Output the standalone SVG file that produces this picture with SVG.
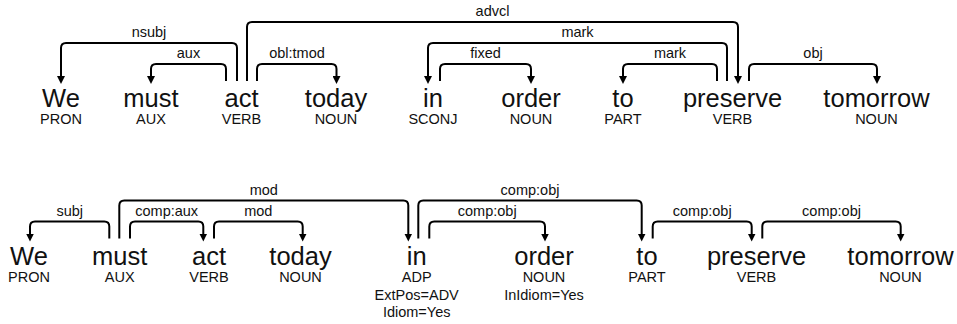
<svg xmlns="http://www.w3.org/2000/svg" width="957" height="324" viewBox="0 0 957 324">
<defs>
<style>
text{font-family:"Liberation Sans",Arial,sans-serif;fill:#111;text-anchor:middle}
.w{font-size:25.5px}
.t{font-size:14.5px}
.l{font-size:14.5px}
.arc{fill:none;stroke:#000;stroke-width:2;marker-end:url(#ah)}
</style>
<marker id="ah" markerUnits="userSpaceOnUse" viewBox="0 0 8 8" markerWidth="8" markerHeight="8" refX="4" refY="4" orient="auto">
<path d="M0,0 L8,4 L0,8 z" fill="#000"/>
</marker>
</defs>
<rect width="957" height="324" fill="#fff"/>

<g id="tree1-words">
<g id="t1-We"><text class="w" x="61" y="107">We</text><text class="t" x="61" y="124">PRON</text></g>
<g id="t1-must"><text class="w" x="151" y="107">must</text><text class="t" x="151" y="124">AUX</text></g>
<g id="t1-act"><text class="w" x="241.5" y="107">act</text><text class="t" x="241.5" y="124">VERB</text></g>
<g id="t1-today"><text class="w" x="336" y="107">today</text><text class="t" x="336" y="124">NOUN</text></g>
<g id="t1-in"><text class="w" x="433" y="107">in</text><text class="t" x="433" y="124">SCONJ</text></g>
<g id="t1-order"><text class="w" x="531" y="107">order</text><text class="t" x="531" y="124">NOUN</text></g>
<g id="t1-to"><text class="w" x="623" y="107">to</text><text class="t" x="623" y="124">PART</text></g>
<g id="t1-preserve"><text class="w" x="732.5" y="107">preserve</text><text class="t" x="732.5" y="124">VERB</text></g>
<g id="t1-tomorrow"><text class="w" x="876.5" y="107">tomorrow</text><text class="t" x="876.5" y="124">NOUN</text></g>
</g>

<g id="tree1-connectors">
<path class="arc" d="M237,81 V48 Q237,43 232,43 H66 Q61,43 61,48 V80"/>
<text class="l" x="149" y="37">nsubj</text>
<path class="arc" d="M226,81 V69 Q226,64 221,64 H156 Q151,64 151,69 V80"/>
<text class="l" x="188.5" y="58">aux</text>
<path class="arc" d="M247,81 V27 Q247,22 252,22 H733 Q738,22 738,27 V80"/>
<text class="l" x="492.5" y="16">advcl</text>
<path class="arc" d="M257,81 V69 Q257,64 262,64 H331.5 Q336.5,64 336.5,69 V80"/>
<text class="l" x="297" y="58">obl:tmod</text>
<path class="arc" d="M727,81 V48 Q727,43 722,43 H433 Q428,43 428,48 V80"/>
<text class="l" x="577.5" y="37">mark</text>
<path class="arc" d="M440,81 V69 Q440,64 445,64 H526 Q531,64 531,69 V80"/>
<text class="l" x="485.5" y="58">fixed</text>
<path class="arc" d="M717,81 V69 Q717,64 712,64 H628 Q623,64 623,69 V80"/>
<text class="l" x="670" y="58">mark</text>
<path class="arc" d="M749,81 V69 Q749,64 754,64 H872 Q877,64 877,69 V80"/>
<text class="l" x="813" y="58">obj</text>
</g>

<g id="tree2-words">
<g id="t2-We"><text class="w" x="29" y="264.5">We</text><text class="t" x="29" y="281.5">PRON</text></g>
<g id="t2-must"><text class="w" x="119.7" y="264.5">must</text><text class="t" x="119.7" y="281.5">AUX</text></g>
<g id="t2-act"><text class="w" x="209" y="264.5">act</text><text class="t" x="209" y="281.5">VERB</text></g>
<g id="t2-today"><text class="w" x="300.5" y="264.5">today</text><text class="t" x="300.5" y="281.5">NOUN</text></g>
<g id="t2-in"><text class="w" x="416.7" y="264.5">in</text><text class="t" x="416.7" y="281.5">ADP</text><text class="t" x="416.7" y="299.5">ExtPos=ADV</text><text class="t" x="416.7" y="316.5">Idiom=Yes</text></g>
<g id="t2-order"><text class="w" x="544" y="264.5">order</text><text class="t" x="544" y="281.5">NOUN</text><text class="t" x="544" y="299.5">InIdiom=Yes</text></g>
<g id="t2-to"><text class="w" x="647" y="264.5">to</text><text class="t" x="647" y="281.5">PART</text></g>
<g id="t2-preserve"><text class="w" x="756.5" y="264.5">preserve</text><text class="t" x="756.5" y="281.5">VERB</text></g>
<g id="t2-tomorrow"><text class="w" x="900.5" y="264.5">tomorrow</text><text class="t" x="900.5" y="281.5">NOUN</text></g>
</g>

<g id="tree2-connectors">
<path class="arc" d="M109.3,238.5 V226.5 Q109.3,221.5 104.3,221.5 H35 Q30,221.5 30,226.5 V237.5"/>
<text class="l" x="69.7" y="215.5">subj</text>
<path class="arc" d="M119.3,238.5 V205.5 Q119.3,200.5 124.3,200.5 H403.3 Q408.3,200.5 408.3,205.5 V237.5"/>
<text class="l" x="263.8" y="194.5">mod</text>
<path class="arc" d="M130,238.5 V226.5 Q130,221.5 135,221.5 H198.3 Q203.3,221.5 203.3,226.5 V237.5"/>
<text class="l" x="166.7" y="215.5">comp:aux</text>
<path class="arc" d="M214,238.5 V226.5 Q214,221.5 219,221.5 H297.7 Q302.7,221.5 302.7,226.5 V237.5"/>
<text class="l" x="258.3" y="215.5">mod</text>
<path class="arc" d="M418.3,238.5 V205.5 Q418.3,200.5 423.3,200.5 H636.7 Q641.7,200.5 641.7,205.5 V237.5"/>
<text class="l" x="530" y="194.5">comp:obj</text>
<path class="arc" d="M429.3,238.5 V226.5 Q429.3,221.5 434.3,221.5 H540 Q545,221.5 545,226.5 V237.5"/>
<text class="l" x="487.2" y="215.5">comp:obj</text>
<path class="arc" d="M652.7,238.5 V226.5 Q652.7,221.5 657.7,221.5 H746.7 Q751.7,221.5 751.7,226.5 V237.5"/>
<text class="l" x="702.2" y="215.5">comp:obj</text>
<path class="arc" d="M762.3,238.5 V226.5 Q762.3,221.5 767.3,221.5 H895.7 Q900.7,221.5 900.7,226.5 V237.5"/>
<text class="l" x="831.5" y="215.5">comp:obj</text>
</g>
</svg>
